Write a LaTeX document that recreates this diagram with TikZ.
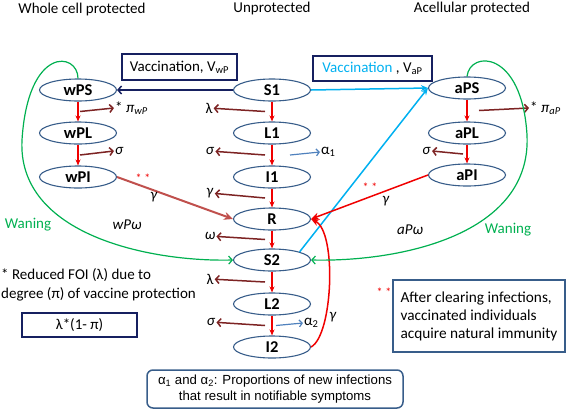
\documentclass[tikz,border=0pt]{standalone}
\usepackage{fontspec}
\setmainfont{Carlito}
\newfontfamily\arialfont{Liberation Sans}
\usetikzlibrary{arrows.meta,shapes.geometric,calc}

\definecolor{ellblue}{RGB}{56,93,138}
\definecolor{boxnavy}{RGB}{22,32,96}
\definecolor{brn}{RGB}{125,35,35}
\definecolor{vred}{RGB}{240,0,0}
\definecolor{rose}{RGB}{192,80,77}
\definecolor{vcyan}{RGB}{0,176,240}
\definecolor{vgreen}{RGB}{0,176,80}
\definecolor{lblue}{RGB}{79,129,189}

\begin{document}
\begin{tikzpicture}[x=1pt,y=-1pt,font=\fontsize{15}{18}\selectfont,
	comp/.style={ellipse,draw=ellblue,line width=1.1pt,minimum width=77pt,minimum height=22pt,inner sep=0pt,font=\fontsize{16.5}{18}\selectfont\bfseries},
	flow/.style={vred,line width=1.2pt,-{Stealth[length=6pt,width=5pt]}},
	rate/.style={brn,line width=1.5pt,-{Straight Barb[length=3.5pt,width=8pt]}},
	sym/.style={inner sep=1pt},
	stars/.style={text=vred,inner sep=0pt,font=\fontsize{12}{12}\selectfont},
	txtbox/.style={draw=boxnavy,line width=1.5pt,inner sep=0pt}]
	\useasboundingbox (0,0) rectangle (567,410);
	% headings
	\node (hwP) at (82,9) {Whole cell protected};
	\node (hun) at (272,8) {Unprotected};
	\node (haP) at (472,8) {Acellular protected};
	% compartments
	\node[comp] (S1) at (272,90) {S1};
	\node[comp] (L1) at (272,133) {L1};
	\node[comp] (I1) at (272,177) {I1};
	\node[comp] (R) at (272,219) {R};
	\node[comp] (S2) at (272,260) {S2};
	\node[comp] (L2) at (272,304) {L2};
	\node[comp] (I2) at (272,347) {I2};
	\node[comp] (wPS) at (78,90) {wPS};
	\node[comp] (wPL) at (78,133) {wPL};
	\node[comp] (wPI) at (78,177) {wPI};
	\node[comp] (aPS) at (467,88) {aPS};
	\node[comp] (aPL) at (467,133) {aPL};
	\node[comp] (aPI) at (467,175) {aPI};
	% vaccination
	\node[txtbox,minimum width=115pt,minimum height=26pt] (vacwP) at (179.5,67) {Vaccination, V\textsubscript{wP}};
	\node[txtbox,minimum width=119pt,minimum height=25pt] (vacaP) at (372.5,68.5) {\textcolor{vcyan}{Vaccination} , V\textsubscript{aP}};
	\draw[boxnavy,line width=1.5pt,-{Straight Barb[length=3.5pt,width=8pt]}] (S1.west) -- (wPS.east);
	\draw[vcyan,line width=1.5pt,-{Stealth[length=7pt,width=6pt]}] (S1.east) -- (aPS.west);
	\draw[vcyan,line width=1.5pt,-{Stealth[length=7pt,width=6pt]}] (S2.north east) -- (aPS.west);
	% force of infection etc.
	\node[sym] (lam1) at (209,108) {λ};
	\node[sym] (sig1) at (210,151) {\textit{σ}};
	\node[sym] (gam1) at (210,193) {\textit{γ}};
	\node[sym] (ome1) at (210,236) {\textit{ω}};
	\node[sym] (lam2) at (210,279) {λ};
	\node[sym] (sig2) at (211,322) {\textit{σ}};
	\draw[rate] ($(S1)!.5!(L1)+(-7,0)$) -- (lam1);
	\draw[rate] ($(L1)!.5!(I1)+(-7,0)$) -- (sig1);
	\draw[rate] ($(I1)!.5!(R)+(-7,0)$) -- (gam1);
	\draw[rate] ($(R)!.5!(S2)+(-7,0)$) -- (ome1);
	\draw[rate] ($(S2)!.5!(L2)+(-7,0)$) -- (lam2);
	\draw[rate] ($(L2)!.5!(I2)+(-7,0)$) -- (sig2);
	\node[sym,anchor=west] (piwP) at (114,108) {* \textit{π}\textsubscript{\textit{wP}}};
	\node[sym,anchor=west] (sigwP) at (114,151) {\textit{σ}};
	\draw[rate] ($(wPS)!.5!(wPL)+(2,0)$) -- (piwP.west);
	\draw[rate] ($(wPL)!.5!(wPI)+(2,0)$) -- (sigwP.west);
	\node[sym,anchor=west] (piaP) at (529,108) {* \textit{π}\textsubscript{\textit{aP}}};
	\node[sym,anchor=east] (sigaP) at (432,151) {\textit{σ}};
	\draw[rate] ($(aPS)!.5!(aPL)+(12,0)$) -- (piaP.west);
	\draw[rate] ($(aPL)!.5!(aPI)+(-4,0)$) -- (sigaP.east);
	\node[sym,anchor=west] (al1) at (320,152) {α\textsubscript{1}};
	\node[sym,anchor=west] (al2) at (303,323) {α\textsubscript{2}};
	\draw[lblue,line width=1.2pt,-{Straight Barb[length=3pt,width=7pt]}] ($(L1)!.5!(I1)+(18,0)$) -- (al1.west);
	\draw[lblue,line width=1.2pt,-{Straight Barb[length=3pt,width=7pt]}] ($(L2)!.5!(I2)+(4,0)$) -- (al2.west);
	\foreach \a/\b in {S1/L1,L1/I1,I1/R,R/S2,S2/L2,L2/I2,wPS/wPL,wPL/wPI,aPS/aPL,aPL/aPI}
		\draw[flow] (\a) -- (\b);
	% recovery of vaccinated
	\draw[rose,line width=2pt,-{Stealth[length=9pt,width=8pt]}] (wPI.east) -- (R.west);
	\node[stars] (st1) at (143,178) {* *};
	\node[sym] (gam2) at (154,197) {\textit{γ}};
	\draw[vred,line width=1.5pt,-{Stealth[length=8pt,width=7pt]}] (aPI.west) -- (R.east);
	\node[stars] (st2) at (370,187) {* *};
	\node[sym] (gam3) at (386,201) {\textit{γ}};
	\draw[vred,line width=1.5pt,-{Stealth[length=8pt,width=7pt]}] (I2.east) .. controls (333,335) and (337,232) .. (R.east);
	\node[sym] (gam4) at (333,317) {\textit{γ}};
	% waning
	\draw[vgreen,line width=1.2pt,-{Straight Barb[length=3.5pt,width=8pt]}] (wPS.north) .. controls (78,52) and (28,45) .. (22,140) .. controls (17,235) and (150,262) .. (S2.west);
	\draw[vgreen,line width=1.2pt,-{Straight Barb[length=3.5pt,width=8pt]}] (aPS.north) .. controls (470,50) and (522,50) .. (527,135) .. controls (532,235) and (400,262) .. (S2.east);
	\node[text=vgreen] (wan1) at (28,225) {Waning};
	\node[text=vgreen] (wan2) at (508,230) {Waning};
	\node (omwP) at (127,225) {\textit{wPω}};
	\node (omaP) at (410,230) {\textit{aPω}};
	% notes
	\node[anchor=north west,align=left,inner sep=0pt,font=\fontsize{15}{19}\selectfont] (foi) at (1,268) {* Reduced FOI (λ) due to\\degree (π) of vaccine protection};
	\node[txtbox,minimum width=115pt,minimum height=24pt] (lamB) at (79.5,325) {λ*(1- π)};
	\node[draw=ellblue,line width=1.5pt,rounded corners=6pt,minimum width=256pt,minimum height=38pt,align=center,font=\arialfont\fontsize{13.2}{16}\selectfont] (alB) at (275,389) {α\textsubscript{1} and α\textsubscript{2}: Proportions of new infections\\that result in notifiable symptoms};
	\node[draw=ellblue,line width=1.5pt,minimum width=172pt,minimum height=72pt,align=left,font=\fontsize{15.3}{18}\selectfont] (clrB) at (479,316) {After clearing infections,\\vaccinated individuals\\acquire natural immunity};
	\node[stars] (st3) at (384,292) {* *};
\end{tikzpicture}
\end{document}
